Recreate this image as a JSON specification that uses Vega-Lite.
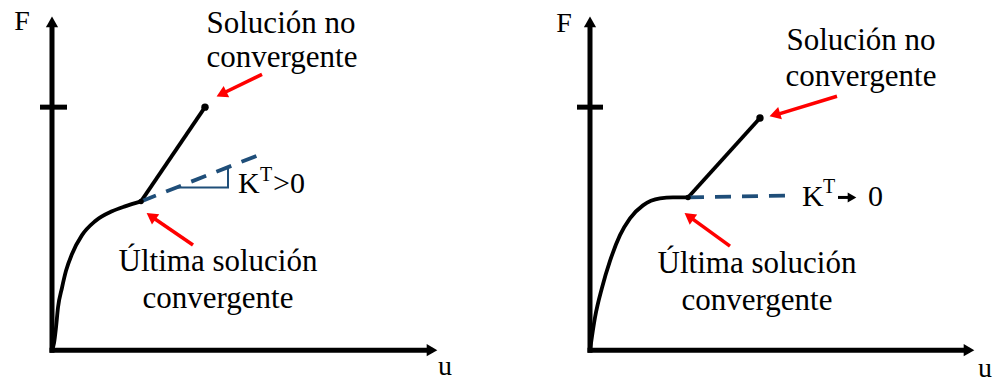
{
  "$schema": "https://vega.github.io/schema/vega-lite/v6.json",
  "width": 993,
  "height": 383,
  "padding": 0,
  "autosize": {"type": "fit", "contains": "padding"},
  "background": "white",
  "config": {"view": {"stroke": null}},
  "datasets": {
    "axes": [
      {"panel": "a", "x": 52, "y": 30, "x2": 52, "y2": 357},
      {"panel": "a", "x": 52, "y": 30, "x2": 430, "y2": 30},
      {"panel": "b", "x": 590, "y": 30, "x2": 590, "y2": 357},
      {"panel": "b", "x": 590, "y": 30, "x2": 967, "y2": 30}
    ],
    "axisHeads": [
      {"x": 52, "y": 361, "heading": 270},
      {"x": 432, "y": 30, "heading": 0},
      {"x": 590, "y": 361, "heading": 270},
      {"x": 969, "y": 30, "heading": 0}
    ],
    "ticks": [
      {"x": 40, "x2": 67, "y": 275},
      {"x": 577, "x2": 603, "y": 275}
    ],
    "curves": [
      {"panel": "a", "x": 52, "y": 30},
      {"panel": "a", "x": 54, "y": 37},
      {"panel": "a", "x": 56, "y": 53},
      {"panel": "a", "x": 58, "y": 73},
      {"panel": "a", "x": 62, "y": 93},
      {"panel": "a", "x": 66, "y": 110},
      {"panel": "a", "x": 72, "y": 127},
      {"panel": "a", "x": 82, "y": 146},
      {"panel": "a", "x": 95, "y": 160},
      {"panel": "a", "x": 112, "y": 170},
      {"panel": "a", "x": 125, "y": 175},
      {"panel": "a", "x": 141, "y": 180},
      {"panel": "b", "x": 590, "y": 30},
      {"panel": "b", "x": 595, "y": 63},
      {"panel": "b", "x": 602, "y": 93},
      {"panel": "b", "x": 610, "y": 120},
      {"panel": "b", "x": 620, "y": 146},
      {"panel": "b", "x": 630, "y": 163},
      {"panel": "b", "x": 643, "y": 176},
      {"panel": "b", "x": 660, "y": 183},
      {"panel": "b", "x": 673, "y": 184},
      {"panel": "b", "x": 688, "y": 184}
    ],
    "branches": [
      {"x": 141, "y": 180, "x2": 205, "y2": 275},
      {"x": 688, "y": 184, "x2": 760, "y2": 264}
    ],
    "tangents": [
      {"x": 141, "y": 180, "x2": 262, "y2": 228},
      {"x": 688, "y": 184, "x2": 790, "y2": 186}
    ],
    "slope": [
      {"order": 1, "x": 178, "y": 194},
      {"order": 2, "x": 228, "y": 194},
      {"order": 3, "x": 228, "y": 213}
    ],
    "pointers": [
      {"x": 262, "y": 308, "x2": 221, "y2": 288},
      {"x": 193, "y": 136, "x2": 151, "y2": 165},
      {"x": 837, "y": 286, "x2": 775, "y2": 267},
      {"x": 730, "y": 135, "x2": 689, "y2": 165}
    ],
    "pointerHeads": [
      {"x": 221.5, "y": 288.2, "heading": 154},
      {"x": 151.1, "y": 165.1, "heading": 215},
      {"x": 774.8, "y": 267.4, "heading": 163},
      {"x": 689, "y": 165, "heading": 216}
    ],
    "kArrow": [
      {"x": 838, "y": 184, "x2": 851, "y2": 184}
    ],
    "kArrowHead": [
      {"x": 852, "y": 184, "heading": 0}
    ],
    "ends": [
      {"x": 205, "y": 275},
      {"x": 760, "y": 264}
    ],
    "joints": [
      {"x": 141, "y": 180},
      {"x": 688, "y": 184}
    ],
    "captions": [
      {"label": "Solución no", "x": 281, "y": 350},
      {"label": "convergente", "x": 282, "y": 315},
      {"label": "Última solución", "x": 218, "y": 110},
      {"label": "convergente", "x": 218, "y": 73},
      {"label": "Solución no", "x": 861, "y": 333},
      {"label": "convergente", "x": 861, "y": 296},
      {"label": "Última solución", "x": 757, "y": 108},
      {"label": "convergente", "x": 757, "y": 71}
    ],
    "axisLabels": [
      {"label": "F", "x": 22, "y": 353},
      {"label": "u", "x": 445, "y": 5},
      {"label": "F", "x": 564, "y": 351},
      {"label": "u", "x": 985, "y": 3}
    ],
    "stiffness": [
      {"label": "K", "x": 238, "y": 188},
      {"label": ">0", "x": 273, "y": 188},
      {"label": "K", "x": 802, "y": 175},
      {"label": "0", "x": 868, "y": 175}
    ],
    "superscripts": [
      {"label": "T", "x": 260, "y": 201},
      {"label": "T", "x": 823, "y": 188}
    ]
  },
  "encoding": {
    "x": {"field": "x", "type": "quantitative", "scale": {"domain": [0, 993], "nice": false, "zero": false}, "axis": null},
    "y": {"field": "y", "type": "quantitative", "scale": {"domain": [0, 383], "nice": false, "zero": false}, "axis": null}
  },
  "layer": [
    {
      "data": {"name": "axes"},
      "mark": {"type": "rule", "color": "black", "strokeWidth": 5, "strokeCap": "square"},
      "encoding": {"x2": {"field": "x2"}, "y2": {"field": "y2"}}
    },
    {
      "data": {"name": "axisHeads"},
      "mark": {"type": "point", "shape": "triangle-right", "filled": true, "color": "black", "size": 150, "opacity": 1},
      "encoding": {"angle": {"field": "heading", "type": "quantitative", "scale": null}}
    },
    {
      "data": {"name": "ticks"},
      "mark": {"type": "rule", "color": "black", "strokeWidth": 5},
      "encoding": {"x2": {"field": "x2"}}
    },
    {
      "data": {"name": "curves"},
      "mark": {"type": "line", "color": "black", "strokeWidth": 3.8, "interpolate": "monotone"},
      "encoding": {"detail": {"field": "panel"}}
    },
    {
      "data": {"name": "branches"},
      "mark": {"type": "rule", "color": "black", "strokeWidth": 3.8},
      "encoding": {"x2": {"field": "x2"}, "y2": {"field": "y2"}}
    },
    {
      "data": {"name": "tangents"},
      "mark": {"type": "rule", "color": "#1f4e79", "strokeWidth": 3.8, "strokeDash": [16, 11]},
      "encoding": {"x2": {"field": "x2"}, "y2": {"field": "y2"}}
    },
    {
      "data": {"name": "slope"},
      "mark": {"type": "line", "color": "#1f4e79", "strokeWidth": 2},
      "encoding": {"order": {"field": "order", "type": "quantitative"}}
    },
    {
      "data": {"name": "pointers"},
      "mark": {"type": "rule", "color": "#ff0000", "strokeWidth": 3.5},
      "encoding": {"x2": {"field": "x2"}, "y2": {"field": "y2"}}
    },
    {
      "data": {"name": "pointerHeads"},
      "mark": {"type": "point", "shape": "triangle-right", "filled": true, "color": "#ff0000", "size": 160, "opacity": 1},
      "encoding": {"angle": {"field": "heading", "type": "quantitative", "scale": null}}
    },
    {
      "data": {"name": "kArrow"},
      "mark": {"type": "rule", "color": "black", "strokeWidth": 3},
      "encoding": {"x2": {"field": "x2"}, "y2": {"field": "y2"}}
    },
    {
      "data": {"name": "kArrowHead"},
      "mark": {"type": "point", "shape": "triangle-right", "filled": true, "color": "black", "size": 100, "opacity": 1},
      "encoding": {"angle": {"field": "heading", "type": "quantitative", "scale": null}}
    },
    {
      "data": {"name": "ends"},
      "mark": {"type": "circle", "color": "black", "size": 55, "opacity": 1}
    },
    {
      "data": {"name": "joints"},
      "mark": {"type": "circle", "color": "black", "size": 30, "opacity": 1}
    },
    {
      "data": {"name": "captions"},
      "mark": {"type": "text", "font": "'Liberation Serif', 'Times New Roman', 'DejaVu Serif', serif", "fontSize": 31, "align": "center", "baseline": "alphabetic", "color": "black"},
      "encoding": {"text": {"field": "label"}}
    },
    {
      "data": {"name": "axisLabels"},
      "mark": {"type": "text", "font": "'Liberation Serif', 'Times New Roman', 'DejaVu Serif', serif", "fontSize": 28, "align": "center", "baseline": "alphabetic", "color": "black"},
      "encoding": {"text": {"field": "label"}}
    },
    {
      "data": {"name": "stiffness"},
      "mark": {"type": "text", "font": "'Liberation Serif', 'Times New Roman', 'DejaVu Serif', serif", "fontSize": 30, "align": "left", "baseline": "alphabetic", "color": "black"},
      "encoding": {"text": {"field": "label"}}
    },
    {
      "data": {"name": "superscripts"},
      "mark": {"type": "text", "font": "'Liberation Serif', 'Times New Roman', 'DejaVu Serif', serif", "fontSize": 20, "align": "left", "baseline": "alphabetic", "color": "black"},
      "encoding": {"text": {"field": "label"}}
    }
  ]
}
